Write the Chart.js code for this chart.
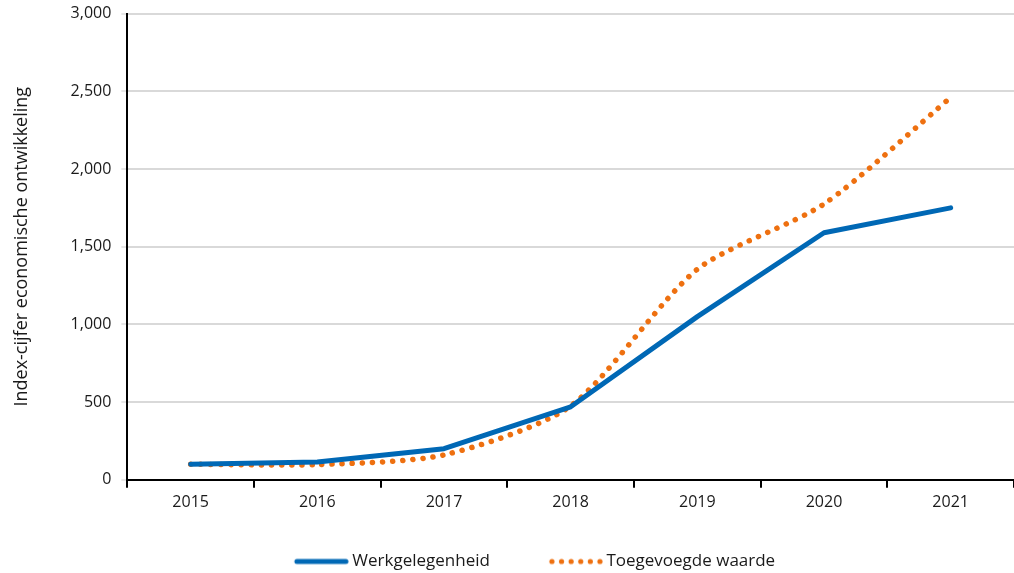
<!DOCTYPE html>
<html>
<head>
<meta charset="utf-8">
<script src="https://cdn.jsdelivr.net/npm/chart.js@4/dist/chart.umd.min.js"></script>
<style>
  html, body { margin: 0; padding: 0; background: #fff; overflow: hidden; }
  #wrap { width: 1014px; height: 579px; margin-top: -6px; }
</style>
</head>
<body>
<div id="wrap"><canvas id="chart"></canvas></div>
<script>
const years = ['2015', '2016', '2017', '2018', '2019', '2020', '2021'];
const werkgelegenheid = [100, 115, 200, 470, 1050, 1590, 1750];
const toegevoegdeWaarde = [100, 98, 160, 475, 1355, 1775, 2460];
const yTicks = [0, 500, 1000, 1500, 2000, 2500, 3000];

const BLUE = '#0068b5';
const ORANGE = '#ee7010';

// legend symbols: drawn at the right end of a wide box, so the text sits close
const SYM_W = 98;
function lineSymbol() {
  const c = document.createElement('canvas');
  c.width = SYM_W + 10; c.height = 8;
  const g = c.getContext('2d');
  g.strokeStyle = BLUE; g.lineWidth = 5; g.lineCap = 'round';
  g.beginPath(); g.moveTo(56, 4); g.lineTo(105, 4); g.stroke();
  return c;
}
function dotSymbol() {
  const c = document.createElement('canvas');
  c.width = SYM_W + 10; c.height = 8;
  const g = c.getContext('2d');
  g.fillStyle = ORANGE;
  for (let i = 0; i < 6; i++) {
    g.beginPath(); g.arc(57 + i * 9.6, 4, 2.6, 0, Math.PI * 2); g.fill();
  }
  return c;
}
const symbols = [lineSymbol(), dotSymbol()];

new Chart(document.getElementById('chart'), {
  type: 'line',
  data: {
    labels: years,
    datasets: [{
      label: 'Werkgelegenheid',
      data: werkgelegenheid,
      borderColor: BLUE,
      backgroundColor: BLUE,
      borderWidth: 5,
      borderCapStyle: 'round',
      borderJoinStyle: 'round',
      pointRadius: 0,
      tension: 0
    }, {
      label: 'Toegevoegde waarde',
      data: toegevoegdeWaarde,
      borderColor: ORANGE,
      backgroundColor: ORANGE,
      borderWidth: 5.5,
      borderDash: [0.1, 10],
      borderCapStyle: 'round',
      pointRadius: 0,
      tension: 0.25
    }]
  },
  options: {
    responsive: true,
    maintainAspectRatio: false,
    animation: false,
    layout: { padding: { top: -3, right: 0, left: 7, bottom: -7 } },
    plugins: {
      tooltip: { enabled: false },
      legend: {
        position: 'bottom',
        labels: {
          usePointStyle: true,
          pointStyleWidth: SYM_W,
          padding: 10,
          color: '#1a1a1a',
          font: { family: 'Open Sans', size: 17 },
          generateLabels(chart) {
            const items = Chart.defaults.plugins.legend.labels.generateLabels(chart);
            items.forEach((it, i) => { it.pointStyle = symbols[i]; });
            return items;
          }
        }
      }
    },
    scales: {
      x: {
        offset: true,
        afterFit(axis) { axis.height += 26; },
        border: { color: '#000', width: 2 },
        grid: { offset: true, drawOnChartArea: false, drawTicks: true, tickLength: 8, color: '#000', lineWidth: 2 },
        ticks: { color: '#1a1a1a', font: { family: 'Open Sans', size: 16 }, padding: 5 }
      },
      y: {
        min: 0,
        max: 3000,
        afterBuildTicks(axis) { axis.ticks = yTicks.map(v => ({ value: v })); },
        border: { color: '#000', width: 2 },
        grid: { color: '#d9d9d9', lineWidth: 2, tickLength: 6, tickColor: '#e6e6e6' },
        ticks: {
          color: '#1a1a1a',
          font: { family: 'Open Sans', size: 16 },
          padding: 10,
          callback: v => v.toLocaleString('en-US')
        },
        title: {
          display: true,
          text: 'Index-cijfer economische ontwikkeling',
          color: '#1a1a1a',
          font: { family: 'Open Sans', size: 18 },
          padding: { bottom: 28 }
        }
      }
    }
  }
});
</script>
</body>
</html>
